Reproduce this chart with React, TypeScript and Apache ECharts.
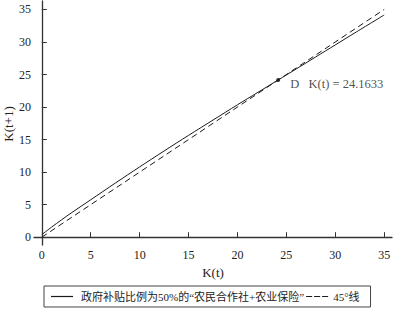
import React, { useEffect, useRef } from "react";
import * as echarts from "echarts";

const kt = [0, 1, 2, 3, 5, 7.5, 10, 12.5, 15, 17.5, 20, 22, 24.1633, 26, 28, 30, 32, 35];
const kt1 = [0.4, 1.55, 2.65, 3.72, 5.75, 8.3, 10.8, 13.25, 15.65, 18.0, 20.35, 22.18, 24.1633, 25.85, 27.7, 29.55, 31.4, 34.15];
const line45X = [0, 35];
const line45Y = [0, 35];
const steadyK = 24.1633;
const xTicks = [0, 5, 10, 15, 20, 25, 30, 35];
const yTicks = [0, 5, 10, 15, 20, 25, 30, 35];
const seriesNames = ["政府补贴比例为50%的“农民合作社+农业保险”", "45°线"];
const yName = "K(t+1)";

const FONT = "'Liberation Serif', 'Noto Sans CJK SC', serif";

export default function App() {
  const ref = useRef<HTMLDivElement>(null);
  useEffect(() => {
    if (!ref.current) return;
    const chart = echarts.init(ref.current, undefined, { renderer: "svg" });
    const axisCommon = {
      type: "value" as const,
      splitLine: { show: false },
      axisLine: { lineStyle: { color: "#333", width: 1.3 } },
      nameTextStyle: { fontFamily: FONT, fontSize: 13, color: "#222" },
    };
    chart.setOption({
      animation: false,
      backgroundColor: "#fff",
      grid: { left: 34, right: 1, top: 1, bottom: 66, containLabel: false, outerBoundsMode: "none" },
      xAxis: {
        ...axisCommon,
        min: -0.8,
        max: 35.8,
        name: "K(t)",
        nameLocation: "middle",
        nameGap: 19,
        axisTick: { inside: true, length: 5, customValues: xTicks, lineStyle: { color: "#333" } },
        axisLabel: { customValues: xTicks, fontFamily: FONT, fontSize: 12, color: "#222", margin: 4 },
      },
      yAxis: {
        ...axisCommon,
        min: -1.2,
        max: 36.3,
        axisTick: { inside: true, length: 5, customValues: yTicks, lineStyle: { color: "#333" } },
        axisLabel: { customValues: yTicks, fontFamily: FONT, fontSize: 12, color: "#222", margin: 3 },
      },
      graphic: [
        {
          type: "text",
          x: 8,
          y: 124,
          rotation: Math.PI / 2,
          style: {
            text: yName,
            fontFamily: FONT,
            fontSize: 13,
            fill: "#222",
            align: "center",
            verticalAlign: "middle",
          },
        },
      ],
      legend: {
        data: [
          { name: seriesNames[0], icon: "path://M0,0h22v1h-22z", textStyle: { padding: [0, 0, 0, 3] } },
          { name: seriesNames[1], icon: "path://M0,0h6v1h-6z M8,0h6v1h-6z M16,0h6v1h-6z" },
        ],
        left: 44,
        top: 286,
        padding: [5, 11, 5, 7],
        borderColor: "#444",
        borderWidth: 1,
        itemGap: 2,
        itemWidth: 22,
        itemHeight: 1.2,
        symbolKeepAspect: false,
        itemStyle: { color: "#1a1a1a" },
        textStyle: { fontFamily: FONT, fontSize: 11, color: "#222" },
      },
      series: [
        {
          name: seriesNames[0],
          type: "line",
          data: kt.map((x, i) => [x, kt1[i]]),
          symbol: "none",
          smooth: 0.3,
          lineStyle: { color: "#1a1a1a", width: 1 },
          itemStyle: { color: "#1a1a1a" },
        },
        {
          name: seriesNames[1],
          type: "line",
          data: line45X.map((x, i) => [x, line45Y[i]]),
          symbol: "none",
          lineStyle: { color: "#1a1a1a", width: 1, type: [6, 4] },
          itemStyle: { color: "#1a1a1a" },
        },
        {
          name: "D",
          type: "scatter",
          data: [[steadyK, steadyK]],
          symbolSize: 4,
          itemStyle: { color: "#000" },
          label: {
            show: true,
            position: "right",
            distance: 10,
            offset: [0, 4],
            formatter: "D   K(t) = " + steadyK,
            fontFamily: FONT,
            fontSize: 12.5,
            color: "#222",
          },
        },
      ],
    });
    return () => chart.dispose();
  }, []);
  return <div ref={ref} style={{ position: "fixed", left: 0, top: 0, width: 393, height: 311 }} />;
}
